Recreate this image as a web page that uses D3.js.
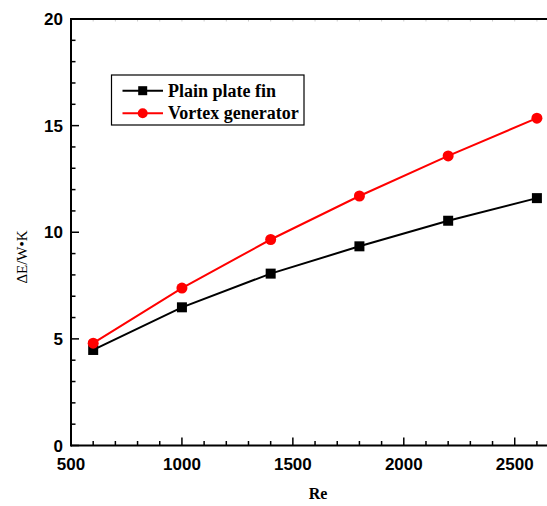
<!DOCTYPE html>
<html>
<head>
<meta charset="utf-8">
<script src="https://cdn.jsdelivr.net/npm/d3@7"></script>
<style>
  body { margin: 0; background: #fff; }
  svg { display: block; }
</style>
</head>
<body>
<svg id="chart" width="547" height="506"></svg>
<script>
const reValues = [600, 1000, 1400, 1800, 2200, 2600];
const plainFin = [4.48, 6.48, 8.06, 9.34, 10.54, 11.6];
const vortexGen = [4.8, 7.38, 9.66, 11.7, 13.58, 15.35];
const xTicks = [500, 1000, 1500, 2000, 2500];
const yTicks = [0, 5, 10, 15, 20];
const seriesNames = ['Plain plate fin', 'Vortex generator'];

const svg = d3.select('#chart');
const plotLeft = 71, plotRight = 548, plotTop = 19, plotBottom = 445.5;

const x = d3.scaleLinear().domain([500, 2650]).range([plotLeft, plotRight]);
const y = d3.scaleLinear().domain([0, 20]).range([plotBottom, plotTop]);

const axisColor = '#000';

// minor ticks
const xMinor = d3.range(500, 2651, 100);
const yMinor = d3.range(0, 20.01, 1);

// bottom axis
const gx = svg.append('g').attr('transform', `translate(0,${plotBottom})`);
gx.selectAll('line.minor').data(xMinor).enter().append('line')
    .attr('x1', d => x(d)).attr('x2', d => x(d))
    .attr('y1', 0).attr('y2', d => d % 500 === 0 ? -8 : -4.5)
    .attr('stroke', axisColor).attr('stroke-width', 1.5);
gx.append('line').attr('x1', plotLeft).attr('x2', plotRight).attr('y1', 0).attr('y2', 0)
    .attr('stroke', axisColor).attr('stroke-width', 2);
gx.selectAll('text').data(xTicks).enter().append('text')
    .attr('x', d => x(d)).attr('y', 24)
    .attr('text-anchor', 'middle')
    .style('font-family', '"Liberation Sans", Arial, sans-serif')
    .style('font-weight', 'bold').style('font-size', '17px')
    .text(d => d);

// top axis (ticks barely visible in the original)
const gt = svg.append('g').attr('transform', `translate(0,${plotTop})`);
gt.selectAll('line').data(xMinor).enter().append('line')
    .attr('x1', d => x(d)).attr('x2', d => x(d))
    .attr('y1', 0).attr('y2', 2.5)
    .attr('stroke', '#ccc').attr('stroke-width', 1);
gt.append('line').attr('x1', plotLeft).attr('x2', plotRight).attr('y1', 0).attr('y2', 0)
    .attr('stroke', axisColor).attr('stroke-width', 2);

// left axis
const gy = svg.append('g').attr('transform', `translate(${plotLeft},0)`);
gy.selectAll('line').data(yMinor).enter().append('line')
    .attr('y1', d => y(d)).attr('y2', d => y(d))
    .attr('x1', 0).attr('x2', d => d % 5 === 0 ? 8 : 4.5)
    .attr('stroke', axisColor).attr('stroke-width', 1.5);
gy.append('line').attr('x1', 0).attr('x2', 0).attr('y1', plotTop - 1).attr('y2', plotBottom + 1)
    .attr('stroke', axisColor).attr('stroke-width', 2);
gy.selectAll('text').data(yTicks).enter().append('text')
    .attr('x', -8).attr('y', d => y(d))
    .attr('dy', '0.36em')
    .attr('text-anchor', 'end')
    .style('font-family', '"Liberation Sans", Arial, sans-serif')
    .style('font-weight', 'bold').style('font-size', '17px')
    .text(d => d);

// axis titles
svg.append('text')
    .attr('x', 318).attr('y', 499)
    .attr('text-anchor', 'middle')
    .style('font-family', '"Liberation Serif", "Times New Roman", serif')
    .style('font-weight', 'bold').style('font-size', '16px')
    .text('Re');

svg.append('text')
    .attr('transform', 'translate(27,257) rotate(-90)')
    .attr('text-anchor', 'middle')
    .style('font-family', '"Liberation Serif", "Times New Roman", serif')
    .style('font-size', '15px')
    .text('ΔE/W•K');

// series
const line = d3.line().x((d, i) => x(reValues[i])).y(d => y(d));

svg.append('path').datum(plainFin)
    .attr('d', line).attr('fill', 'none')
    .attr('stroke', '#000').attr('stroke-width', 2);
svg.append('path').datum(vortexGen)
    .attr('d', line).attr('fill', 'none')
    .attr('stroke', '#ff0000').attr('stroke-width', 2);

svg.selectAll('rect.pt').data(plainFin).enter().append('rect')
    .attr('class', 'pt')
    .attr('x', (d, i) => x(reValues[i]) - 5).attr('y', d => y(d) - 5)
    .attr('width', 10).attr('height', 10)
    .attr('fill', '#000');
svg.selectAll('circle.pt').data(vortexGen).enter().append('circle')
    .attr('class', 'pt')
    .attr('cx', (d, i) => x(reValues[i])).attr('cy', d => y(d))
    .attr('r', 5.5)
    .attr('fill', '#ff0000');

// legend
const lg = svg.append('g');
lg.append('rect')
    .attr('x', 111.5).attr('y', 75).attr('width', 192.5).attr('height', 50)
    .attr('fill', '#fff').attr('stroke', '#000').attr('stroke-width', 1.2);
const rows = [
  { name: seriesNames[0], color: '#000', shape: 'square', y: 90.7 },
  { name: seriesNames[1], color: '#ff0000', shape: 'circle', y: 113.3 }
];
rows.forEach(r => {
  lg.append('line').attr('x1', 122.5).attr('x2', 163).attr('y1', r.y).attr('y2', r.y)
      .attr('stroke', r.color).attr('stroke-width', 2);
  if (r.shape === 'square') {
    lg.append('rect').attr('x', 142.7 - 4.5).attr('y', r.y - 4.5)
        .attr('width', 9).attr('height', 9).attr('fill', r.color);
  } else {
    lg.append('circle').attr('cx', 142.7).attr('cy', r.y).attr('r', 5).attr('fill', r.color);
  }
  lg.append('text').attr('x', 168).attr('y', r.y + 6)
      .style('font-family', '"Liberation Serif", "Times New Roman", serif')
      .style('font-weight', 'bold').style('font-size', '18px')
      .text(r.name);
});
</script>
</body>
</html>
